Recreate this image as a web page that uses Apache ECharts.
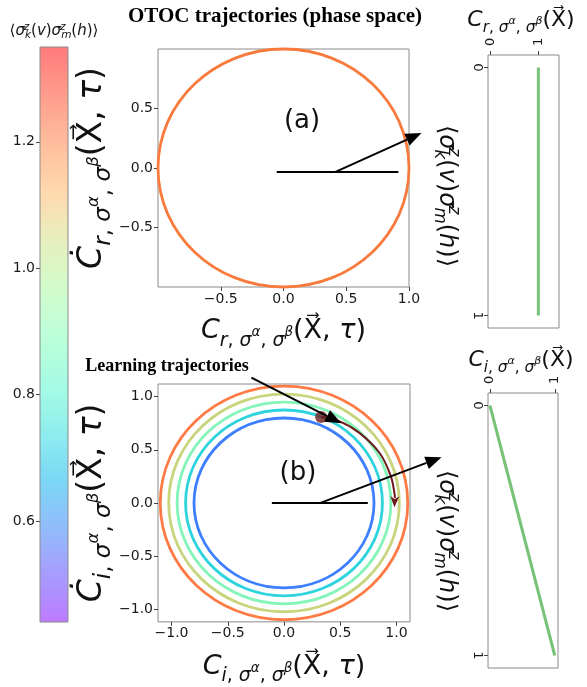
<!DOCTYPE html>
<html><head><meta charset="utf-8">
<script src="https://cdn.jsdelivr.net/npm/echarts@6/dist/echarts.min.js"></script>
<style>html,body{margin:0;padding:0;background:#fff}#c{width:587px;height:687px}</style>
</head><body><div id="c"></div>
<script>
// ---------------- data ----------------
const cbRange = [0.44, 1.35];
const cbTicks = [0.6, 0.8, 1.0, 1.2];
const radiiA = [1.0];
const colorsA = ['#f87b3d'];
const radiiB = [0.8, 0.875, 0.95, 1.025, 1.1];
const colorsB = ['#3d7fff', '#2dd4de', '#84f4b8', '#c9d47c', '#ff7b45'];
const rangeAx = [-1.0, 1.0];
const rangeAy = [-1.0, 1.0];
const rangeB = [-1.12, 1.12];
const ticksAx = [-0.5, 0, 0.5, 1.0];
const ticksAy = [-0.5, 0, 0.5];
const ticksB = [-1.0, -0.5, 0, 0.5, 1.0];
const rangeCx = [-0.05, 1.43];
const rangeDx = [-0.03, 1.05];
const rangeCDy = [-0.05, 1.05];
const ticksCD = [0, 1];
const lineCx = [1, 1], lineCy = [0, 1];
const lineDx = [0, 1], lineDy = [0, 1];
const learnDot = [0.33, 0.81];
const learnPathX = [0.33, 0.49, 0.67, 0.85, 0.95, 0.985, 0.982];
const learnPathY = [0.81, 0.77, 0.66, 0.47, 0.25, 0.07, -0.04];
// annotation segments: [x1, y1, x2, y2, arrowHead]
const segsA = [[-0.054, -0.034, 0.915, -0.034, 0], [0.41, -0.034, 1.10, 0.294, 1]];
const segsB = [[-0.108, 0.0, 0.745, 0.0, 0], [0.324, 0.0, 1.40, 0.43, 1], [-0.29, 1.18, 0.51, 0.75, 1]];

// ---------------- helpers ----------------
const FF = 'DejaVu Sans';
function rich(S, zr) {
  const col = zr ? {fill: '#111'} : {color: '#111'};
  const b = Object.assign({fontFamily: FF, verticalAlign: 'bottom'}, col);
  const tok = (fs, h, it, extra) => Object.assign({}, b, {fontSize: fs, height: h, lineHeight: h},
    it ? {fontStyle: 'italic'} : {}, extra || {});
  return {
    m: tok(S, 1.2 * S, true),
    n: tok(S, 1.2 * S, false),
    s: tok(0.7 * S, 0.5 * S, true),
    su: tok(0.7 * S, 0.5 * S, false),
    p: tok(0.5 * S, 1.1 * S, true),
    P: tok(0.7 * S, 1.75 * S, true, {width: 0.01}),
    k: tok(0.7 * S, 0.6 * S, true)
  };
}
function cLabel(sub, dot, tau) {
  const C = dot ? '\u010A' : 'C';
  return '{m|' + C + '}{s|' + sub + '}{su|, }{s|σ}{p|α}{su|, }{s|σ}{p|β}' +
    (tau ? '{n|(X\u20D7, }{m|τ}{n|)}' : '{n|(X\u20D7)}');
}
const sigLabel = '{n|⟨}{m|σ}{P| z}{k|k}{n|(}{m|v}{n|)}{m|σ}{P| z}{k|m}{n|(}{m|h}{n|)⟩}';
function fmt(v) { return (v < 0 ? '\u2212' : '') + Math.abs(v).toFixed(1); }

function rainbow(t, a) {
  const r = Math.min(1, Math.abs(2 * t - 0.5)), g = Math.sin(Math.PI * t), bl = Math.cos(Math.PI * t / 2);
  const f = c => Math.round(255 * (a * c + 1 - a));
  return 'rgb(' + f(r) + ',' + f(g) + ',' + f(bl) + ')';
}
const cbStops = [];
for (let i = 0; i <= 20; i++) cbStops.push({offset: i / 20, color: rainbow(i / 20, 0.52)});

const gridBase = {show: true, borderColor: '#8a8a8a', borderWidth: 1, backgroundColor: 'transparent'};
const grids = [
  Object.assign({left: 158, top: 49, width: 251, height: 238}, gridBase),
  Object.assign({left: 158, top: 384, width: 252, height: 239}, gridBase),
  Object.assign({left: 488, top: 55, width: 71, height: 273}, gridBase),
  Object.assign({left: 488, top: 393, width: 70, height: 275}, gridBase),
  Object.assign({left: 40, top: 47, width: 28, height: 575}, gridBase, {show: false})
];

function axis(gi, range, ticks, extra, labelExtra, fmtFn) {
  return Object.assign({
    type: 'value', gridIndex: gi, min: range[0], max: range[1],
    axisLine: {show: false, onZero: false}, splitLine: {show: false},
    axisTick: {show: true, length: 4, customValues: ticks, lineStyle: {color: '#444', width: 1}},
    axisLabel: Object.assign({customValues: ticks, fontFamily: FF, fontSize: 14, color: '#1a1a1a', margin: 5,
      formatter: fmtFn || fmt}, labelExtra || {})
  }, extra || {});
}

const xAxes = [
  axis(0, rangeAx, ticksAx, {name: cLabel('r', false, true), nameLocation: 'middle', nameGap: 28,
    nameTextStyle: {rich: rich(27)}}),
  axis(1, rangeB, ticksB, {name: cLabel('i', false, true), nameLocation: 'middle', nameGap: 29,
    nameTextStyle: {rich: rich(27)}}),
  axis(2, rangeCx, ticksCD, {position: 'top'}, {rotate: -90, fontSize: 13, margin: 9}, v => String(v)),
  axis(3, rangeDx, ticksCD, {position: 'top'}, {rotate: -90, fontSize: 13, margin: 9}, v => String(v)),
  {type: 'value', gridIndex: 4, min: 0, max: 1, show: false}
];
const yAxes = [
  axis(0, rangeAy, ticksAy, {name: cLabel('r', true, true), nameLocation: 'middle', nameGap: 37,
    nameTextStyle: {rich: rich(33)}}),
  axis(1, rangeB, ticksB, {name: cLabel('i', true, true), nameLocation: 'middle', nameGap: 37,
    nameTextStyle: {rich: rich(33)}}),
  axis(2, rangeCDy, ticksCD, {inverse: true}, {rotate: -90, fontSize: 13, margin: 4}, v => String(v)),
  axis(3, rangeCDy, ticksCD, {inverse: true}, {rotate: -90, fontSize: 13, margin: 4}, v => String(v)),
  axis(4, cbRange, cbTicks, {}, {fontSize: 14})
];

function circleSeries(gi, radii, colors) {
  return {
    type: 'custom', xAxisIndex: gi, yAxisIndex: gi, silent: true, z: 2,
    data: radii.map(r => [r]), encode: {x: 0},
    renderItem: function (params, api) {
      const r = api.value(0);
      const c0 = api.coord([0, 0]), cx = api.coord([r, 0]), cy = api.coord([0, r]);
      return {type: 'ellipse', shape: {cx: c0[0], cy: c0[1], rx: cx[0] - c0[0], ry: c0[1] - cy[1]},
        style: {fill: 'none', stroke: colors[params.dataIndex], lineWidth: 2.8}};
    }
  };
}
function segSeries(gi, segs) {
  return {
    type: 'custom', xAxisIndex: gi, yAxisIndex: gi, silent: true, z: 5, clip: false,
    data: segs, encode: {x: [0, 2], y: [1, 3]},
    renderItem: function (params, api) {
      const p1 = api.coord([api.value(0), api.value(1)]);
      const p2 = api.coord([api.value(2), api.value(3)]);
      const head = api.value(4);
      if (!head) {
        return {type: 'line', shape: {x1: p1[0], y1: p1[1], x2: p2[0], y2: p2[1]},
          style: {stroke: '#000', lineWidth: 2}};
      }
      const dx = p2[0] - p1[0], dy = p2[1] - p1[1], L = Math.hypot(dx, dy);
      const ux = dx / L, uy = dy / L, hl = 16, hw = 6.5;
      const bx = p2[0] - ux * hl, by = p2[1] - uy * hl;
      return {type: 'group', children: [
        {type: 'line', shape: {x1: p1[0], y1: p1[1], x2: bx, y2: by}, style: {stroke: '#000', lineWidth: 2}},
        {type: 'polygon', shape: {points: [[p2[0], p2[1]], [bx - uy * hw, by + ux * hw], [bx + uy * hw, by - ux * hw]]},
          style: {fill: '#000'}}
      ]};
    }
  };
}

const series = [
  circleSeries(0, radiiA, colorsA),
  circleSeries(1, radiiB, colorsB),
  segSeries(0, segsA),
  segSeries(1, segsB),
  {
    type: 'custom', xAxisIndex: 1, yAxisIndex: 1, silent: true, z: 4, clip: false,
    data: [[0]], encode: {x: 0},
    renderItem: function (params, api) {
      const pts = learnPathX.map((x, i) => api.coord([x, learnPathY[i]]));
      const n = pts.length, e = pts[n - 1], q = pts[n - 2];
      const dx = e[0] - q[0], dy = e[1] - q[1], L = Math.hypot(dx, dy);
      const ux = dx / L, uy = dy / L, hl = 11, hw = 4.5;
      const bx = e[0] - ux * hl, by = e[1] - uy * hl;
      const body = pts.slice(0, n - 1).concat([[bx + ux * 2, by + uy * 2]]);
      return {type: 'group', children: [
        {type: 'polyline', shape: {points: body, smooth: 0.35}, style: {fill: 'none', stroke: '#6b1b1b', lineWidth: 2}},
        {type: 'polygon', shape: {points: [[e[0], e[1]], [bx - uy * hw, by + ux * hw], [bx + ux * 3, by + uy * 3], [bx + uy * hw, by - ux * hw]]},
          style: {fill: '#6b1b1b'}}
      ]};
    }
  },
  {type: 'scatter', xAxisIndex: 1, yAxisIndex: 1, z: 3, silent: true, data: [learnDot], symbolSize: 12,
    itemStyle: {color: '#6e1e1e'}},
  {type: 'line', xAxisIndex: 2, yAxisIndex: 2, symbol: 'none', silent: true,
    data: lineCx.map((x, i) => [x, lineCy[i]]), lineStyle: {color: '#78c278', width: 3}},
  {type: 'line', xAxisIndex: 3, yAxisIndex: 3, symbol: 'none', silent: true,
    data: lineDx.map((x, i) => [x, lineDy[i]]), lineStyle: {color: '#78c278', width: 3}},
  {
    type: 'custom', xAxisIndex: 4, yAxisIndex: 4, silent: true, z: 1,
    data: [[0, cbRange[0], 1, cbRange[1]]], encode: {x: [0, 2], y: [1, 3]},
    renderItem: function (params, api) {
      const a = api.coord([api.value(0), api.value(1)]), b = api.coord([api.value(2), api.value(3)]);
      const shape = {x: a[0], y: b[1], width: b[0] - a[0], height: a[1] - b[1]};
      return {type: 'group', children: [
        {type: 'rect', shape: shape, style: {fill: new echarts.graphic.LinearGradient(0, 1, 0, 0, cbStops)}},
        {type: 'rect', shape: shape, style: {fill: 'none', stroke: '#8a8a8a', lineWidth: 1}}
      ]};
    }
  }
];

const graphics = [
  {type: 'text', x: 275, y: 17, style: {text: 'OTOC trajectories (phase space)', fontFamily: 'Liberation Serif',
    fontWeight: 'bold', fontSize: 21, fill: '#000', align: 'center', verticalAlign: 'middle'}},
  {type: 'text', x: 54, y: 27, style: {text: sigLabel, rich: rich(15, true), align: 'center', verticalAlign: 'middle'}},
  {type: 'text', x: 521, y: 20, style: {text: cLabel('r', false, false), rich: rich(22, true), align: 'center', verticalAlign: 'middle'}},
  {type: 'text', x: 521, y: 360, style: {text: cLabel('i', false, false), rich: rich(22, true), align: 'center', verticalAlign: 'middle'}},
  {type: 'text', x: 453, y: 196, rotation: -Math.PI / 2, style: {text: sigLabel, rich: rich(24, true), align: 'center', verticalAlign: 'middle'}},
  {type: 'text', x: 453, y: 541, rotation: -Math.PI / 2, style: {text: sigLabel, rich: rich(24, true), align: 'center', verticalAlign: 'middle'}},
  {type: 'text', x: 302, y: 121, style: {text: '(a)', fontFamily: FF, fontSize: 26, fill: '#111', align: 'center', verticalAlign: 'middle'}},
  {type: 'text', x: 298, y: 473, style: {text: '(b)', fontFamily: FF, fontSize: 26, fill: '#111', align: 'center', verticalAlign: 'middle'}},
  {type: 'text', x: 167, y: 366, style: {text: 'Learning trajectories', fontFamily: 'Liberation Serif',
    fontWeight: 'bold', fontSize: 18, fill: '#000', align: 'center', verticalAlign: 'middle'}}
];

const chart = echarts.init(document.getElementById('c'), null, {renderer: 'canvas', width: 587, height: 687});
chart.setOption({
  animation: false,
  backgroundColor: '#fff',
  grid: grids,
  xAxis: xAxes,
  yAxis: yAxes,
  series: series,
  graphic: graphics
});
</script>
</body></html>
